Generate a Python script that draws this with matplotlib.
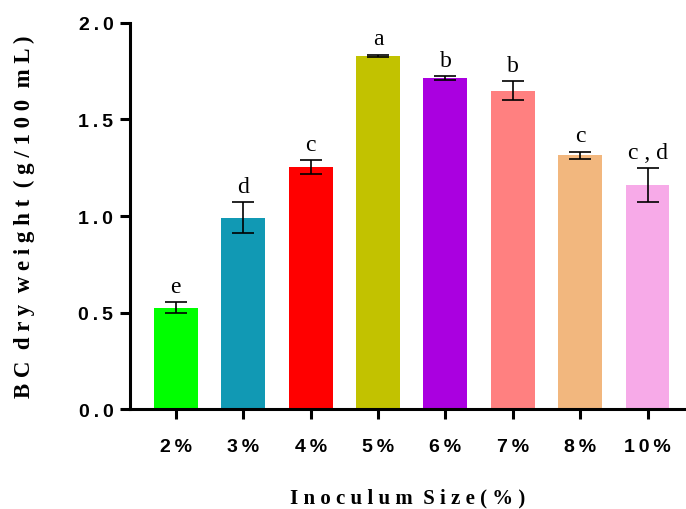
import matplotlib
matplotlib.use('Agg')
import matplotlib.pyplot as plt
import numpy as np

# Данные
sizes = ['2%', '3%', '4%', '5%', '6%', '7%', '8%', '10%']
weight = [0.525, 0.99, 1.255, 1.83, 1.715, 1.65, 1.315, 1.16]
err = [0.03, 0.08, 0.035, 0.006, 0.01, 0.047, 0.018, 0.087]
letters = ['e', 'd', 'c', 'a', 'b', 'b', 'c', 'c , d']
colors = ['#00FF00', '#1199B4', '#FF0000', '#C2C200', '#AA00E0',
          '#FF8080', '#F2B77E', '#F7AAE8']
yticks = [0, 0.5, 1.0, 1.5, 2.0]


def spaced(s):
    return '  '.join(' '.join(w) for w in s.split(' '))


def thin(s):
    return '\u2009'.join(s)


fig = plt.figure(figsize=(6.86, 5.10), dpi=100)
ax = fig.add_axes([0.1895, 0.196, 0.8105, 0.757])

x = np.arange(len(sizes))
ax.bar(x, weight, width=0.65, color=colors, edgecolor='none')
ax.errorbar(x, weight, yerr=err, fmt='none', ecolor='black',
            elinewidth=1.2, capsize=8, capthick=1.2)

for xi, v, e, t in zip(x, weight, err, letters):
    ax.text(xi, v + e + 0.028, t, ha='center', va='bottom',
            fontsize=17, family='Liberation Serif')

ax.set_xlim(-0.68, 7.57)
ax.set_ylim(0, 2.0)
ax.set_yticks(yticks)
ax.set_yticklabels([thin(f'{v:.1f}') for v in yticks])
ax.set_xticks(x)
ax.set_xticklabels([thin(s) for s in sizes])

for s in ['top', 'right']:
    ax.spines[s].set_visible(False)
for s in ['left', 'bottom']:
    ax.spines[s].set_linewidth(2.2)
ax.tick_params(axis='both', width=2.2, length=7, direction='out')
ax.tick_params(axis='x', pad=14)
ax.tick_params(axis='y', pad=5)
for lab in ax.get_xticklabels() + ax.get_yticklabels():
    lab.set_fontfamily(['Liberation Sans', 'DejaVu Sans'])
    lab.set_fontweight('bold')
    lab.set_fontsize(14)

ax.set_xlabel(spaced('Inoculum Size(%)'), fontsize=15, fontweight='bold',
              family='Liberation Serif', labelpad=23)
ax.set_ylabel(spaced('BC dry weight (g/100 mL)'), fontsize=16.5,
              fontweight='bold', family='Liberation Serif', labelpad=31)

plt.savefig('out.png', dpi=100)
